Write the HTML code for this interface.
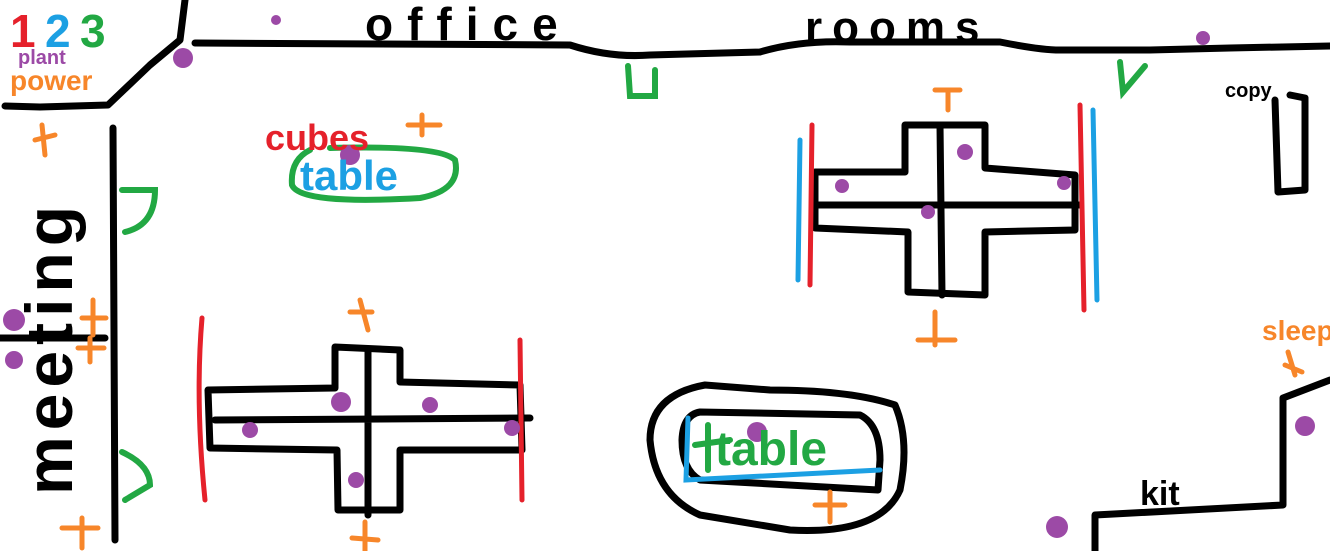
<!DOCTYPE html>
<html><head><meta charset="utf-8"><style>
html,body{margin:0;padding:0;background:#fff;}
svg{display:block;}
text{font-family:"Liberation Sans",sans-serif;font-weight:bold;}
</style></head><body>
<svg width="1330" height="551" viewBox="0 0 1330 551">
<g fill="none" stroke="#000" stroke-width="7" stroke-linecap="round" stroke-linejoin="round">
<path d="M185,0 L180,40 L150,65 L108,105 L40,107 L5,106"/>
<path d="M195,43 L570,45 Q610,58 650,55 L760,52 Q800,40 850,42 L1000,42 Q1040,50 1060,50 L1150,50 L1230,48 L1330,46"/>
<path d="M113,128 L115,540"/>
<path d="M0,338 L105,338"/>
<path d="M1275,100 L1278,192 L1305,190 L1305,98 L1290,95"/>
<path d="M1330,380 L1283,398 L1283,505 L1095,515 L1095,551"/>
<path d="M905,125 L985,125 L985,168 L1075,175 L1075,230 L985,232 L985,295 L908,292 L908,232 L815,228 L815,172 L905,172 Z"/>
<path d="M815,205 L1080,205 M940,125 L942,295"/>
<path d="M335,347 L400,350 L400,382 L520,385 L522,450 L400,450 L400,510 L338,510 L337,450 L210,448 L208,390 L335,388 Z"/>
<path d="M215,420 L530,418 M368,350 L368,515"/>
<path d="M705,385 L770,390 Q850,390 895,405 Q910,440 900,490 Q880,535 790,530 L700,515 Q655,495 650,440 Q650,395 705,385 Z"/>
<path d="M700,412 L860,415 Q880,425 880,460 L878,490 L700,480 Q682,470 682,440 Q683,415 700,412 Z"/>
</g>
<g fill="none" stroke="#22a843" stroke-width="6" stroke-linecap="round">
<path d="M628,66 L630,96 L655,96 L655,70"/>
<path d="M1120,62 L1123,92 L1145,66"/>
<path d="M122,190 L155,190 Q155,225 125,232"/>
<path d="M122,452 Q150,465 150,485 L125,500"/>
<path d="M310,150 Q290,160 292,185 Q300,205 420,198 Q462,190 455,160 Q440,145 330,148"/>
<path d="M708,425 L708,470 M695,445 L730,440"/>
</g>
<g fill="none" stroke="#e5212b" stroke-width="5" stroke-linecap="round">
<path d="M812,125 L810,285"/><path d="M1080,105 L1084,310"/>
<path d="M202,318 Q195,400 205,500"/><path d="M520,340 L522,500"/>
</g>
<g fill="none" stroke="#1ca0e3" stroke-width="5" stroke-linecap="round">
<path d="M800,140 L798,280"/><path d="M1093,110 L1097,300"/>
<path d="M688,418 L686,480 L880,470"/>
</g>
<g fill="#9c4aa6">
<circle cx="183" cy="58" r="10"/><circle cx="276" cy="20" r="5"/><circle cx="1203" cy="38" r="7"/>
<circle cx="350" cy="155" r="10"/><circle cx="965" cy="152" r="8"/><circle cx="842" cy="186" r="7"/>
<circle cx="1064" cy="183" r="7"/><circle cx="928" cy="212" r="7"/><circle cx="14" cy="320" r="11"/>
<circle cx="14" cy="360" r="9"/><circle cx="341" cy="402" r="10"/><circle cx="430" cy="405" r="8"/>
<circle cx="250" cy="430" r="8"/><circle cx="512" cy="428" r="8"/><circle cx="356" cy="480" r="8"/>
<circle cx="757" cy="432" r="10"/><circle cx="1305" cy="426" r="10"/><circle cx="1057" cy="527" r="11"/>
</g>
<g fill="none" stroke="#f7862a" stroke-width="5" stroke-linecap="round">
<path d="M408,125 L440,125 M422,115 L422,135"/><path d="M935,90 L960,90 M948,92 L948,110"/>
<path d="M918,340 L955,340 M935,312 L935,345"/><path d="M35,140 L55,135 M42,125 L45,155"/>
<path d="M82,318 L106,318 M93,300 L93,335"/><path d="M78,348 L104,348 M90,338 L90,362"/>
<path d="M360,300 L368,330 M350,312 L372,312"/><path d="M352,538 L378,540 M365,522 L365,551"/>
<path d="M815,505 L845,505 M830,492 L830,522"/><path d="M62,528 L98,528 M82,518 L82,548"/>
<path d="M1288,352 L1295,375 M1285,365 L1302,372"/>
</g>
<text x="10" y="47" font-size="46" fill="#e5212b">1</text>
<text x="45" y="47" font-size="46" fill="#1ca0e3">2</text>
<text x="80" y="47" font-size="46" fill="#22a843">3</text>
<text x="18" y="64" font-size="20" fill="#9c4aa6">plant</text>
<text x="10" y="90" font-size="28" fill="#f7862a">power</text>
<text x="365" y="40" font-size="46" letter-spacing="14" fill="#000">office</text>
<text x="805" y="42" font-size="44" letter-spacing="10" fill="#000">rooms</text>
<text x="1225" y="97" font-size="20" fill="#000">copy</text>
<text x="265" y="150" font-size="36" fill="#e5212b">cubes</text>
<text x="300" y="190" font-size="42" fill="#1ca0e3">table</text>
<text x="715" y="465" font-size="48" fill="#22a843">table</text>
<text x="1140" y="505" font-size="34" fill="#000">kit</text>
<text x="1262" y="340" font-size="28" fill="#f7862a">sleep</text>
<text transform="translate(72,495) rotate(-90)" font-size="66" letter-spacing="6" fill="#000">meeting</text>
</svg>
</body></html>
